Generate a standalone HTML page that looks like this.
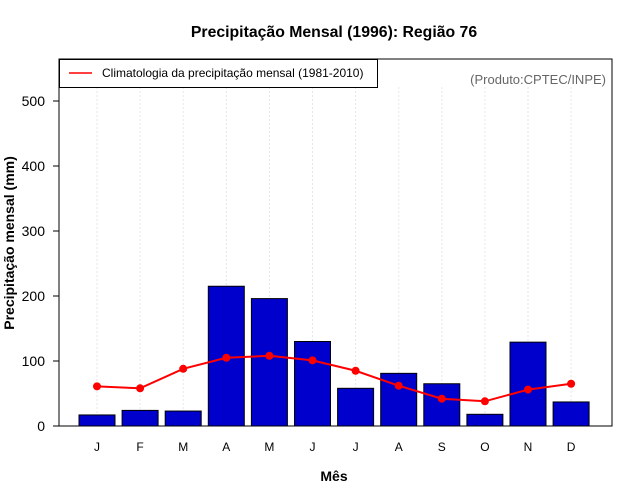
<!DOCTYPE html>
<html><head><meta charset="utf-8"><style>
body{margin:0;background:#fff;}
svg{display:block;font-family:"Liberation Sans",sans-serif;}
</style></head><body>
<svg id="chart" width="640" height="500">
<text x="334" y="37" text-anchor="middle" font-size="15.8" font-weight="bold">Precipitação Mensal (1996): Região 76</text>
<text x="334" y="481" text-anchor="middle" font-size="14" font-weight="bold">Mês</text>
<text transform="translate(14,243) rotate(-90)" text-anchor="middle" font-size="14" font-weight="bold">Precipitação mensal (mm)</text>
<g id="grid"></g><g id="bars"></g><g id="line"></g><g id="axes"></g>
<rect x="59" y="59" width="553" height="367" fill="none" stroke="#000" stroke-width="1"/>
<g>
<rect x="59.5" y="59.5" width="318" height="28" fill="#fff" stroke="#000"/>
<line x1="69" y1="73" x2="92" y2="73" stroke="red" stroke-width="1.5"/>
<text x="102" y="77" font-size="12">Climatologia da precipitação mensal (1981-2010)</text>
</g>
<text x="606" y="84" text-anchor="end" font-size="13" fill="#666">(Produto:CPTEC/INPE)</text>
</svg>
<script>
const months=["J","F","M","A","M","J","J","A","S","O","N","D"];
const precip=[17,24,23,215,196,130,58,81,65,18,129,37];
const climatology=[61,58,88,105,108,101,85,62,42,38,56,65];
const yTicks=[0,100,200,300,400,500];
const NS="http://www.w3.org/2000/svg";
function xs(i){return 97+i*43.1;}
function ys(v){return 426-v*0.65;}
function mk(tag,attrs,parent){const e=document.createElementNS(NS,tag);for(const k in attrs)e.setAttribute(k,attrs[k]);document.getElementById(parent).appendChild(e);return e;}
months.forEach((m,i)=>{
 const g=mk("line",{x1:xs(i),x2:xs(i),y1:87,y2:426,stroke:"#e6e6e6","stroke-dasharray":"2,2"},"grid");
 
 
 const b=mk("rect",{x:xs(i)-18,y:ys(precip[i]),width:36,height:precip[i]*0.65,fill:"#0000cd",stroke:"#000","stroke-width":1},"bars");
 
 
 const t=mk("text",{x:xs(i),y:451,"text-anchor":"middle","font-size":12},"axes");
 t.textContent=m;
 
 
});
const pl=mk("polyline",{points:climatology.map((v,i)=>xs(i)+","+ys(v)).join(" "),fill:"none",stroke:"red","stroke-width":2},"line");


climatology.forEach((v,i)=>{
 const c=mk("circle",{cx:xs(i),cy:ys(v),r:4,fill:"red"},"line");
 
 
});
yTicks.forEach(v=>{
 const l=mk("line",{x1:53,x2:59,y1:ys(v),y2:ys(v),stroke:"#000"},"axes");
 
 
 const t=mk("text",{x:45,y:ys(v)+5,"text-anchor":"end","font-size":14},"axes");
 t.textContent=v;
 
 
});
</script>
</body></html>
